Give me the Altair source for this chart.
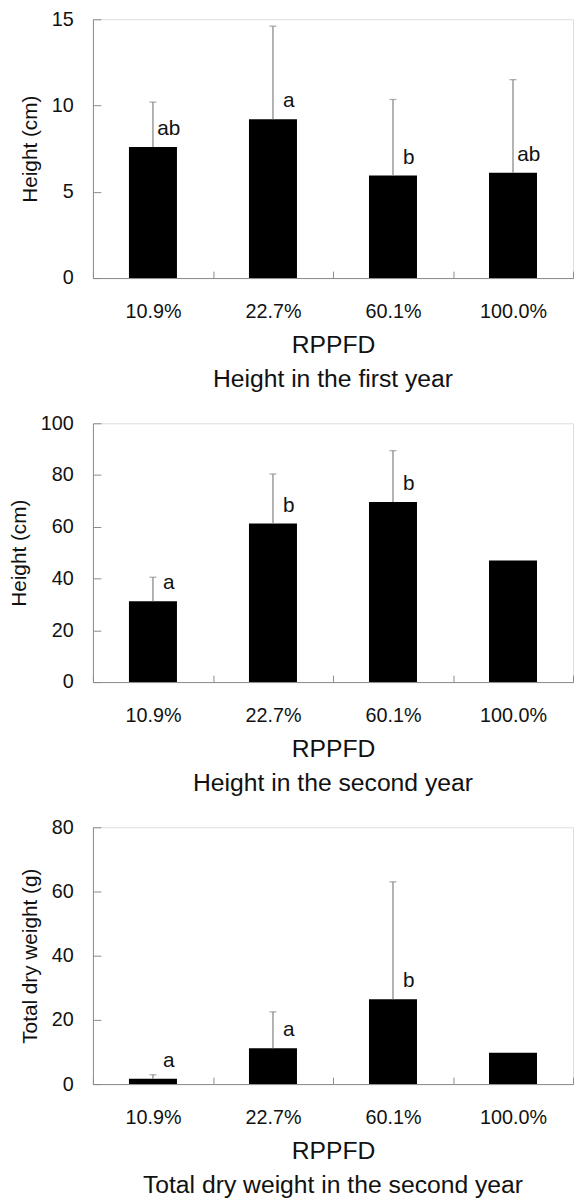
import altair as alt
import pandas as pd

cats = ["10.9%", "22.7%", "60.1%", "100.0%"]

# Panel 1: height in the first year
h1_mean = [7.6, 9.2, 5.95, 6.1]
h1_upper = [10.2, 14.6, 10.35, 11.5]
h1_letters = ["ab", "a", "b", "ab"]
h1_ticks = [0, 5, 10, 15]

# Panel 2: height in the second year
h2_mean = [31.2, 61.3, 69.6, 47.0]
h2_upper = [40.5, 80.4, 89.4, None]
h2_letters = ["a", "b", "b", ""]
h2_ticks = [0, 20, 40, 60, 80, 100]

# Panel 3: total dry weight in the second year
w_mean = [1.7, 11.2, 26.4, 9.8]
w_upper = [2.9, 22.5, 63.0, None]
w_letters = ["a", "a", "b", ""]
w_ticks = [0, 20, 40, 60, 80]

FONT = "Liberation Sans"
GRAY = "#8a8a8a"
W = 486


def panel(means, uppers, letters, ticks, ytitle, title, h):
    df = pd.DataFrame({"cat": cats, "v": means, "top": uppers, "lab": letters})
    x = alt.X(
        "cat:N",
        sort=cats,
        scale=alt.Scale(paddingInner=0, paddingOuter=0),
        axis=alt.Axis(
            title="RPPFD",
            labelAngle=0,
            tickBand="extent",
            tickSize=alt.ExprRef(expr="-7"),
            tickColor=GRAY,
            domainColor=GRAY,
            labelFontSize=20,
            labelPadding=31,
            labelColor="#111111",
            titleFontSize=25,
            titleFontWeight="normal",
            titleColor="#111111",
            titlePadding=11,
        ),
    )
    y = alt.Y(
        "v:Q",
        scale=alt.Scale(domain=[ticks[0], ticks[-1]], nice=False),
        axis=alt.Axis(
            values=ticks,
            title=ytitle,
            grid=False,
            tickSize=alt.ExprRef(expr="-8"),
            tickColor=GRAY,
            domainColor=GRAY,
            labelFontSize=20,
            labelPadding=28,
            labelColor="#111111",
            titleFontSize=21,
            titleFontWeight="normal",
            titleColor="#111111",
            titlePadding=11,
        ),
    )
    base = alt.Chart(df)
    bars = base.mark_bar(color="black", width=alt.RelativeBandSize(0.4)).encode(x=x, y=y)
    errs = base.transform_filter("isValid(datum.top)")
    rule = errs.mark_rule(color=GRAY, strokeWidth=1.3).encode(
        x=alt.X("cat:N", sort=cats), y="v:Q", y2="top:Q"
    )
    cap = errs.mark_tick(orient="horizontal", size=7, thickness=1.3, color=GRAY).encode(
        x=alt.X("cat:N", sort=cats), y="top:Q"
    )
    txt = base.mark_text(
        dx=16, dy=-18, fontSize=21, font=FONT, baseline="middle", color="#111111"
    ).encode(x=alt.X("cat:N", sort=cats), y="v:Q", text="lab:N")
    return alt.layer(bars, rule, cap, txt).properties(
        width=W,
        height=h,
        title=alt.TitleParams(
            text=title,
            orient="bottom",
            fontSize=25,
            fontWeight="normal",
            color="#111111",
            offset=10,
        ),
    )


p1 = panel(h1_mean, h1_upper, h1_letters, h1_ticks, "Height (cm)", "Height in the first year", 262)
p2 = panel(h2_mean, h2_upper, h2_letters, h2_ticks, "Height (cm)", "Height in the second year", 262)
p3 = panel(w_mean, w_upper, w_letters, w_ticks, "Total dry weight (g)", "Total dry weight in the second year", 260)

chart = (
    alt.vconcat(p1, p2, p3, spacing=20)
    .properties(padding={"left": 0, "top": -7, "right": 0, "bottom": 0})
    .configure_view(stroke=None)
    .configure(font=FONT, background="white")
)

chart.save("out.html", embed_options={"renderer": "svg", "actions": False})
